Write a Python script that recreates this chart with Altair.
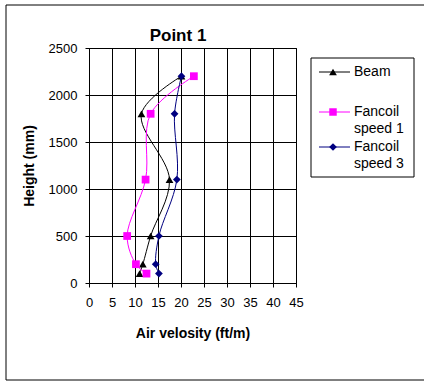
import altair as alt
import pandas as pd

# ---- data ----
heights = [100, 200, 500, 1100, 1800, 2200]
beam = [11.0, 11.7, 13.4, 17.5, 11.4, 20.1]
fancoil_1 = [12.5, 10.2, 8.3, 12.3, 13.4, 22.8]
fancoil_3 = [15.2, 14.5, 15.2, 19.1, 18.6, 20.1]

series_names = ["Beam", "Fancoil speed 1", "Fancoil speed 3"]
series_values = [beam, fancoil_1, fancoil_3]
colors = ["#000000", "#FF00FF", "#000080"]
shapes = ["triangle-up", "square", "diamond"]
sizes = [60, 56, 60]

x_ticks = [0, 5, 10, 15, 20, 25, 30, 35, 40, 45]
y_ticks = [0, 500, 1000, 1500, 2000, 2500]

rows = []
for name, vals in zip(series_names, series_values):
    for h, v in zip(heights, vals):
        rows.append({"series": name, "height": h, "velocity": v})
df = pd.DataFrame(rows)

FONT = "Liberation Sans"
W, H = 207, 235

color_scale = alt.Scale(domain=series_names, range=colors)
shape_scale = alt.Scale(domain=series_names, range=shapes)

x_enc = alt.X(
    "velocity:Q",
    scale=alt.Scale(domain=[0, 45], nice=False),
    axis=alt.Axis(
        values=x_ticks, title="Air velosity (ft/m)", grid=True, gridColor="#000000",
        gridOpacity=1, domainColor="#000000", tickColor="#000000", tickSize=4,
        labelFontSize=13, labelFont=FONT, labelColor="#000000", labelPadding=9,
        labelOverlap=False, format="d",
        titleFont=FONT, titleFontSize=14, titleFontWeight="bold", titleColor="#000000",
        titleY=54, titleBaseline="alphabetic", labelFlush=False,
    ),
)
y_enc = alt.Y(
    "height:Q",
    scale=alt.Scale(domain=[0, 2500], nice=False),
    axis=alt.Axis(
        values=y_ticks, title="Height (mm)", grid=True, gridColor="#000000",
        gridOpacity=1, domainColor="#000000", tickColor="#000000", tickSize=4,
        labelFontSize=13, labelFont=FONT, labelColor="#000000", labelPadding=8,
        labelOverlap=False, format="d",
        titleFont=FONT, titleFontSize=14, titleFontWeight="bold", titleColor="#000000",
        titleX=-60, titleY=H / 2, titleAngle=270, titleAlign="center",
        titleBaseline="middle", labelFlush=False,
    ),
)

base = alt.Chart(df)
lines = base.mark_line(interpolate="catmull-rom", strokeWidth=1).encode(
    x=x_enc, y=y_enc,
    color=alt.Color("series:N", scale=color_scale, legend=None),
    order=alt.Order("height:Q"),
    detail="series:N",
)
points = base.mark_point(filled=True, opacity=1, size=60).encode(
    x=x_enc, y=y_enc,
    color=alt.Color("series:N", scale=color_scale, legend=None),
    shape=alt.Shape("series:N", scale=shape_scale, legend=None),
)

# ---- title ----
title_df = pd.DataFrame({"t": ["Point 1"]})
title = alt.Chart(title_df).mark_text(
    font=FONT, fontSize=17, fontWeight="bold", color="#000000", baseline="alphabetic", align="center"
).encode(text="t:N", x=alt.value(89), y=alt.value(-7))

# ---- outer frame ----
frame_df = pd.DataFrame({"k": [0]})
frame = alt.Chart(frame_df).mark_rect(fill=None, stroke="#000000", strokeWidth=1).encode(
    x=alt.value(-83), x2=alt.value(400), y=alt.value(-43), y2=alt.value(332)
)

# ---- legend (manual, Excel-like) ----
legend_box = alt.Chart(frame_df).mark_rect(fill="#FFFFFF", stroke="#000000", strokeWidth=1).encode(
    x=alt.value(222), x2=alt.value(325), y=alt.value(10), y2=alt.value(129)
)
legend_layers = [legend_box]
line_y = [24, 64, 99]
for i, name in enumerate(series_names):
    ldf = pd.DataFrame({"label": [name.replace(" speed", "\nspeed")]})
    ly = line_y[i]
    legend_layers.append(
        alt.Chart(ldf).mark_rule(color=colors[i], strokeWidth=1).encode(
            x=alt.value(230), x2=alt.value(261), y=alt.value(ly)
        )
    )
    legend_layers.append(
        alt.Chart(ldf).mark_point(filled=True, opacity=1, shape=shapes[i], size=sizes[i], color=colors[i]).encode(
            x=alt.value(244), y=alt.value(ly)
        )
    )
    legend_layers.append(
        alt.Chart(ldf).mark_text(
            font=FONT, fontSize=14, color="#000000", align="left", baseline="middle",
            lineBreak="\n", lineHeight=17,
        ).encode(text="label:N", x=alt.value(265), y=alt.value(ly))
    )

chart = alt.layer(frame, lines, points, title, *legend_layers).properties(
    width=W, height=H,
    autosize=alt.AutoSizeParams(type="none"),
    padding={"left": 89, "top": 48, "right": 128, "bottom": 98},
    background="#FFFFFF",
).configure_view(stroke="#000000", strokeWidth=1)

chart.save("out.html", embed_options={"renderer": "svg", "actions": False})
